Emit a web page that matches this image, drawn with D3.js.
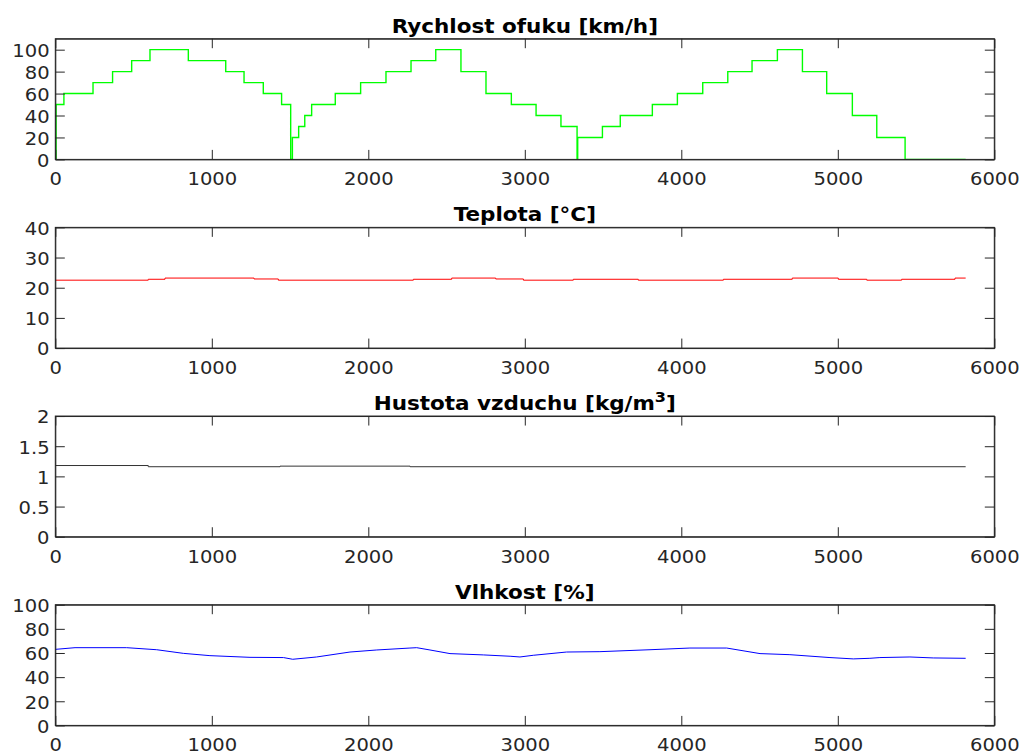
<!DOCTYPE html>
<html>
<head>
  <title>Rychlost ofuku, teplota, hustota, vlhkost</title>
  <script src="https://d3js.org/d3.v7.min.js"></script>
</head>
<body style="margin:0; background:#fff;">
  <style>
    text {
      font-family: "DejaVu Sans", sans-serif;
      fill: #262626;
    }
    .axis path,
    .axis line {
      fill: none;
      stroke: #262626;
    }
    .title {
      font-weight: bold;
      fill: #000;
    }
  </style>

  <svg id="chart"></svg>

  <script>
    // Rychlost ofuku [km/h] - stepped levels (time, value)
    var speedTime  = [0, 5, 55, 241, 366, 488, 605, 850, 1089, 1206, 1329, 1446, 1504, 1515, 1555, 1594, 1638, 1789, 1951, 2113, 2273, 2431, 2592, 2752, 2914, 3072, 3231, 3334, 3338, 3496, 3610, 3815, 3975, 4137, 4297, 4452, 4614, 4774, 4929, 5093, 5249, 5430, 5817];
    var speedValue = [0, 50, 60, 70, 80, 90, 100, 90, 80, 70, 60, 50, 0, 20, 30, 40, 50, 60, 70, 80, 90, 100, 80, 60, 50, 40, 30, 0, 20, 30, 40, 50, 60, 70, 80, 90, 100, 80, 60, 40, 20, 0, 0];

    // Teplota [°C]
    var tempTime  = [0, 594, 701, 1270, 1425, 2288, 2533, 2814, 2991, 3310, 3725, 4269, 4709, 5003, 5185, 5408, 5749, 5817];
    var tempValue = [22.5, 22.8, 23.2, 22.9, 22.5, 22.8, 23.2, 22.9, 22.5, 22.8, 22.5, 22.8, 23.2, 22.8, 22.5, 22.8, 23.2, 23.2];

    // Hustota vzduchu [kg/m3]
    var densTime  = [0, 594, 1436, 2267, 5817];
    var densValue = [1.18, 1.16, 1.17, 1.16, 1.16];

    // Vlhkost [%]
    var humTime  = [0, 126, 456, 648, 818, 988, 1244, 1458, 1517, 1670, 1883, 2054, 2266, 2309, 2394, 2522, 2735, 2906, 2969, 3054, 3267, 3480, 3800, 4055, 4290, 4503, 4694, 4950, 5099, 5205, 5269, 5461, 5610, 5817];
    var humValue = [63, 64.4, 64.4, 62.7, 59.7, 57.8, 56.4, 56.2, 54.8, 56.7, 60.8, 62.5, 64.1, 64.4, 62.5, 59.5, 58.4, 57.3, 56.7, 58.1, 60.8, 61.1, 62.7, 64.1, 64.1, 59.5, 58.6, 56.2, 55.1, 55.6, 56.2, 56.7, 55.9, 55.6];

    var xTicks = [0, 1000, 2000, 3000, 4000, 5000, 6000];

    var chartWidth = 1021;
    var chartHeight = 754;
    var left = 55.3, right = 994.3;
    var firstTop = 38.7, panelStep = 188.67, panelHeight = 120.7;
    var stretch = 1.15; // glyphs in the reference are wider than tall

    var svg = d3.select("#chart")
      .attr("width", chartWidth)
      .attr("height", chartHeight);

    var xScale = d3.scaleLinear()
      .domain([0, 6000])
      .range([0, right - left]);

    var panels = [
      { title: ["Rychlost ofuku [km/h]"], time: speedTime, value: speedValue, domain: [0, 110], ticks: [0, 20, 40, 60, 80, 100], color: "#00ff00", width: 1.4, curve: d3.curveStepAfter },
      { title: ["Teplota [°C]"], time: tempTime, value: tempValue, domain: [0, 40], ticks: [0, 10, 20, 30, 40], color: "#ff0000", width: 1, curve: d3.curveStepAfter },
      { title: ["Hustota vzduchu [kg/m", "3", "]"], time: densTime, value: densValue, domain: [0, 2], ticks: [0, 0.5, 1, 1.5, 2], color: "#333333", width: 1, curve: d3.curveStepAfter },
      { title: ["Vlhkost [%]"], time: humTime, value: humValue, domain: [0, 100], ticks: [0, 20, 40, 60, 80, 100], color: "#0000ff", width: 1, curve: d3.curveLinear }
    ];

    panels.forEach(function(p, i) {
      var top = firstTop + i * panelStep;
      var w = right - left;
      var g = svg.append("g")
        .attr("transform", "translate(" + left + "," + top + ")");

      var yScale = d3.scaleLinear()
        .domain(p.domain)
        .range([panelHeight, 0]);

      // data line
      var pts = p.time.map(function(t, k) { return [t, p.value[k]]; });
      var line = d3.line()
        .x(function(d) { return xScale(d[0]); })
        .y(function(d) { return yScale(d[1]); })
        .curve(p.curve);

      g.append("path")
        .datum(pts)
        .attr("d", line)
        .attr("fill", "none")
        .attr("stroke", p.color)
        .attr("stroke-width", p.width);

      // axes, ticks pointing inwards (matlab style)
      var xb = g.append("g")
        .attr("class", "axis")
        .attr("transform", "translate(0," + panelHeight + ")")
        .call(d3.axisBottom(xScale).tickValues(xTicks).tickSizeInner(-9.5).tickSizeOuter(0).tickPadding(13.7).tickFormat(function(d) { return String(d); }));

      g.append("g")
        .attr("class", "axis")
        .call(d3.axisTop(xScale).tickValues(xTicks).tickSizeInner(-9.5).tickSizeOuter(0).tickFormat(""));

      var yl = g.append("g")
        .attr("class", "axis")
        .call(d3.axisLeft(yScale).tickValues(p.ticks).tickSizeInner(-9.5).tickSizeOuter(0).tickPadding(5).tickFormat(function(d) { return String(d); }));

      g.append("g")
        .attr("class", "axis")
        .attr("transform", "translate(" + w + ",0)")
        .call(d3.axisRight(yScale).tickValues(p.ticks).tickSizeInner(-9.5).tickSizeOuter(0).tickFormat(""));

      g.selectAll(".axis text")
        .style("font-size", "17px")
        .attr("fill", "#262626");

      xb.selectAll("text")
        .attr("transform", "scale(" + stretch + ",1)");

      yl.selectAll("text")
        .attr("dy", "0.4em")
        .attr("transform", "scale(" + stretch + ",1)");

      // box
      g.append("rect")
        .attr("x", 0)
        .attr("y", 0)
        .attr("width", w)
        .attr("height", panelHeight)
        .attr("fill", "none")
        .attr("stroke", "#262626")
        .attr("stroke-width", 1);

      // title
      var title = g.append("text")
        .attr("class", "title")
        .attr("text-anchor", "middle")
        .attr("transform", "translate(" + (w / 2) + "," + (-6) + ") scale(" + stretch + ",1)")
        .style("font-size", "18.7px");

      title.append("tspan").text(p.title[0]);
      if (p.title.length > 1) {
        title.append("tspan").attr("dy", -8).style("font-size", "14px").text(p.title[1]);
        title.append("tspan").attr("dy", 8).text(p.title[2]);
      }
    });
  </script>
</body>
</html>
